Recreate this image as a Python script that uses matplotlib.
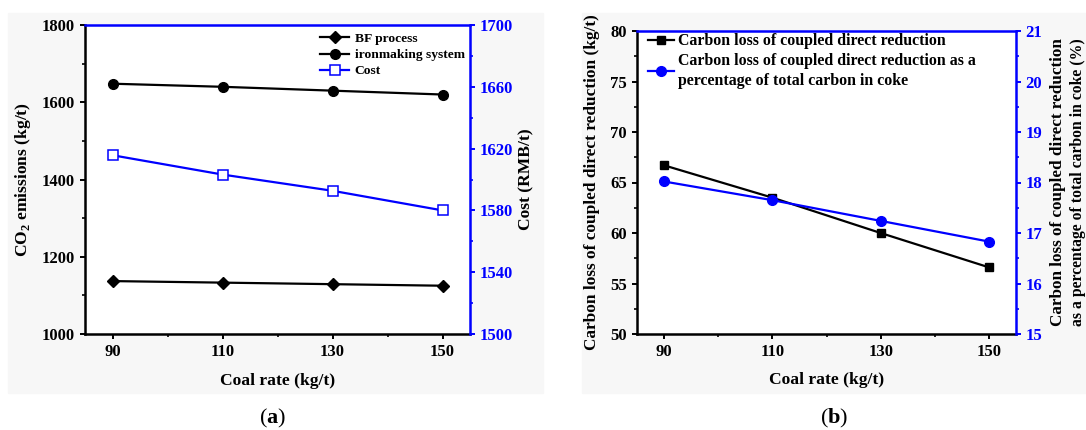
import matplotlib
matplotlib.use('Agg')
import matplotlib.pyplot as plt
from matplotlib.patches import Rectangle
from matplotlib.ticker import MultipleLocator, FixedLocator
import numpy as np

plt.rcParams['font.family'] = ['Liberation Serif', 'DejaVu Serif']
plt.rcParams['font.weight'] = 'bold'
plt.rcParams['axes.labelweight'] = 'bold'
plt.rcParams['mathtext.fontset'] = 'custom'
plt.rcParams['mathtext.rm'] = 'Liberation Serif:bold'
plt.rcParams['mathtext.bf'] = 'Liberation Serif:bold'

# data
coal_rate = [90, 110, 130, 150]
bf_process = [1137, 1133, 1129, 1125]
ironmaking = [1648, 1640, 1630, 1620]
cost = [1615.7, 1603.2, 1592.7, 1580]
carbon_loss = [66.7, 63.5, 60.0, 56.6]
carbon_pct = [18.02, 17.65, 17.24, 16.83]

W, H = 1086, 430
fig = plt.figure(figsize=(W / 100, H / 100), dpi=100)
bg = '#f7f7f7'
fig.patches.append(Rectangle((8 / W, 1 - 393 / H), 535 / W, 380 / H, transform=fig.transFigure,
                             color=bg, zorder=-10))
fig.patches.append(Rectangle((582 / W, 1 - 393 / H), 504 / W, 380 / H, transform=fig.transFigure,
                             color=bg, zorder=-10))


def style_axes(ax, ax2):
    ax.set_facecolor('white')
    for s in ['left', 'bottom']:
        ax.spines[s].set_linewidth(1.8)
    ax.spines['top'].set_visible(False)
    ax.spines['right'].set_visible(False)
    for s in ['top', 'right']:
        ax2.spines[s].set_color('blue')
        ax2.spines[s].set_linewidth(1.8)
    ax2.spines['left'].set_visible(False)
    ax2.spines['bottom'].set_visible(False)
    ax.tick_params(which='major', length=3.8, width=1.4, labelsize=12, pad=3.5)
    ax.tick_params(which='minor', length=2, width=1.2)
    ax2.tick_params(axis='y', which='major', colors='blue', length=3.8, width=1.4, labelsize=12, pad=3)
    ax2.tick_params(axis='y', which='minor', colors='blue', length=2, width=1.2)
    ax.set_xlim(85, 155)
    ax.set_xticks(coal_rate)
    ax.xaxis.set_minor_locator(FixedLocator([100, 120, 140]))
    ax.set_xlabel('Coal rate (kg/t)', fontsize=12.6)
    ax.xaxis.set_label_coords(0.5, -0.125)


# panel (a)
ax1 = fig.add_axes([85 / W, 1 - 334 / H, 385 / W, 309 / H])
ax1b = ax1.twinx()
l1, = ax1.plot(coal_rate, bf_process, color='black', marker='D', markersize=5.8, lw=1.6, label='BF process')
l2, = ax1.plot(coal_rate, ironmaking, color='black', marker='o', markersize=7, lw=1.6, label='ironmaking system')
l3, = ax1b.plot(coal_rate, cost, color='blue', marker='s', markersize=7, mfc='white', mec='blue',
                mew=1.1, lw=1.6, label='Cost')
ax1.set_ylim(1000, 1800)
ax1.yaxis.set_major_locator(MultipleLocator(200))
ax1.yaxis.set_minor_locator(MultipleLocator(100))
ax1b.set_ylim(1500, 1700)
ax1b.yaxis.set_major_locator(FixedLocator(np.arange(1500, 1701, 40)))
ax1b.yaxis.set_minor_locator(FixedLocator(np.arange(1520, 1700, 40)))
ax1.set_ylabel('CO$_2$ emissions (kg/t)', fontsize=12.6, labelpad=6)
ax1b.set_ylabel('Cost (RMB/t)', fontsize=12.6, labelpad=4)
style_axes(ax1, ax1b)
ax1b.legend(handles=[l1, l2, l3], loc='upper left', bbox_to_anchor=(0.61, 0.975), frameon=False,
            fontsize=9.7, handlelength=2.2, handletextpad=0.38, labelspacing=0.27,
            borderaxespad=0, borderpad=0)

# panel (b)
ax2 = fig.add_axes([637 / W, 1 - 334 / H, 379 / W, 303 / H])
ax2b = ax2.twinx()
m1, = ax2.plot(coal_rate, carbon_loss, color='black', marker='s', markersize=6, lw=1.6,
               label='Carbon loss of coupled direct reduction')
m2, = ax2b.plot(coal_rate, carbon_pct, color='blue', marker='o', markersize=7, lw=1.6,
                label='Carbon loss of coupled direct reduction as a\npercentage of total carbon in coke')
ax2.set_ylim(50, 80)
ax2.yaxis.set_major_locator(MultipleLocator(5))
ax2.yaxis.set_minor_locator(MultipleLocator(2.5))
ax2b.set_ylim(15, 21)
ax2b.yaxis.set_major_locator(MultipleLocator(1))
ax2b.yaxis.set_minor_locator(MultipleLocator(0.5))
ax2.set_ylabel('Carbon loss of coupled direct reduction (kg/t)', fontsize=12.4, labelpad=7)
style_axes(ax2, ax2b)
ax2b.text(1.111, 0.5, 'Carbon loss of coupled direct reduction', transform=ax2b.transAxes,
          rotation=90, ha='center', va='center', fontsize=12.3)
ax2b.text(1.164, 0.5, 'as a percentage of total carbon in coke (%)', transform=ax2b.transAxes,
          rotation=90, ha='center', va='center', fontsize=11.3)
leg = ax2b.legend(handles=[m1, m2], loc='upper left', bbox_to_anchor=(0.029, 0.993), frameon=False,
                  fontsize=11.4, handlelength=1.65, handletextpad=0.25, labelspacing=0.22,
                  borderaxespad=0, borderpad=0)
leg.get_texts()[1].set_linespacing(1.35)

fig.text(273 / W, 1 - 418 / H, '($\\mathbf{a}$)', ha='center', va='center', fontsize=16, fontweight='normal')
fig.text(834 / W, 1 - 418 / H, '($\\mathbf{b}$)', ha='center', va='center', fontsize=16, fontweight='normal')

fig.savefig('out.png', dpi=100, facecolor='white')
